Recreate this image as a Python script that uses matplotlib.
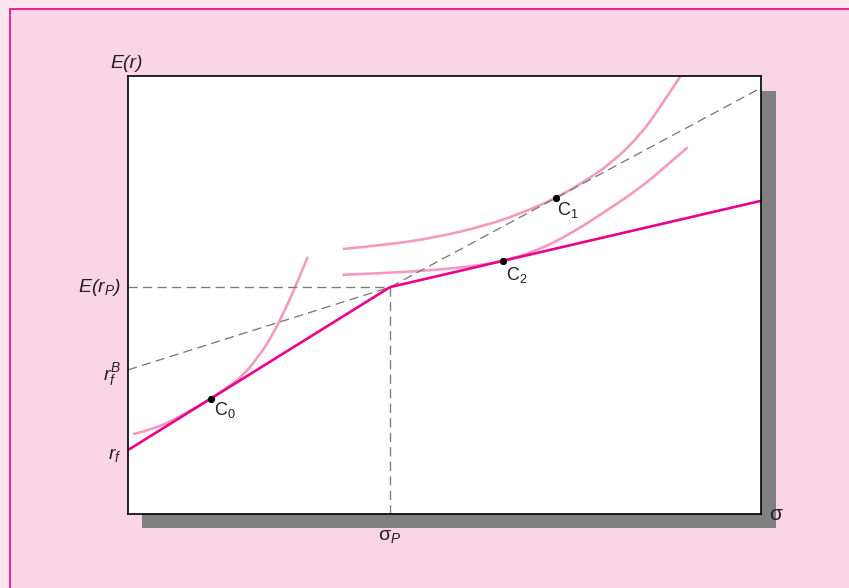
import matplotlib
matplotlib.use("Agg")
import matplotlib.pyplot as plt
from matplotlib.patches import Rectangle, PathPatch
from matplotlib.path import Path

plt.rcParams['font.family'] = ['Liberation Sans', 'DejaVu Sans']
plt.rcParams['mathtext.fontset'] = 'custom'
plt.rcParams['mathtext.rm'] = 'Liberation Sans'
plt.rcParams['mathtext.it'] = 'Liberation Sans:italic'
plt.rcParams['mathtext.bf'] = 'Liberation Sans:bold'

# values (axis units 0-100 for both sigma and E(r))
rf = 14.6
rf_b = 32.9
er_p = 51.8
sigma_p = 41.4

# kinked capital allocation line: rf -> P -> right edge
cal_x = [0, sigma_p, 100]
cal_y = [rf, er_p, 71.5]

# dashed borrowing line: rf_B -> P -> right edge
borrow_x = [0, sigma_p, 100]
borrow_y = [rf_b, er_p, 97.3]

# optimal complete portfolios
c_names = ['C$_0$', 'C$_1$', 'C$_2$']
c_x = [13.1, 67.6, 59.3]
c_y = [26.3, 72.1, 57.8]

# indifference curves
u0_x = [0.8, 4.8, 9.0, 13.1, 15.3, 18.0, 20.6, 22.7, 24.8, 26.7, 28.4]
u0_y = [18.2, 19.7, 22.9, 26.3, 28.5, 31.3, 35.9, 40.5, 46.6, 52.7, 58.7]

u1_x = [33.9, 40.6, 48.5, 56.4, 62.2, 67.6, 72.7, 76.9, 80.9, 84.0, 87.2]
u1_y = [60.5, 61.4, 63.1, 65.8, 68.7, 72.1, 76.4, 80.8, 86.5, 92.7, 99.8]

u2_x = [33.9, 40.6, 48.5, 54.8, 59.3, 64.3, 69.6, 74.8, 80.9, 84.8, 88.4]
u2_y = [54.6, 55.0, 55.7, 56.6, 57.8, 59.9, 63.7, 68.5, 74.4, 79.2, 83.7]

magenta = '#EC008C'
light_pink = '#F49AC1'
dash_gray = '#7A7A7A'
txt = '#231F20'


def smooth_path(xs, ys):
    # quadratic bezier: read points are control points, midpoints sit on the curve
    pts = list(zip(xs, ys))
    verts = [pts[0]]
    codes = [Path.MOVETO]
    for i in range(1, len(pts) - 1):
        mid = ((pts[i][0] + pts[i + 1][0]) / 2, (pts[i][1] + pts[i + 1][1]) / 2)
        if i == len(pts) - 2:
            mid = pts[-1]
        verts += [pts[i], mid]
        codes += [Path.CURVE3, Path.CURVE3]
    return Path(verts, codes)


fig = plt.figure(figsize=(8.49, 5.88), dpi=100, facecolor='#FCE6F0')

# framed pink panel and drop shadow
fig.patches.append(Rectangle((10 / 849, -0.2), 1.2, 1.2 - 9 / 588,
                             transform=fig.transFigure, facecolor='#F9D5E5',
                             edgecolor=magenta, linewidth=1.2, zorder=-2))
fig.patches.append(Rectangle((142 / 849, 60 / 588), 634 / 849, 437 / 588,
                             transform=fig.transFigure, facecolor='#808080',
                             edgecolor='none', zorder=-1))

ax = fig.add_axes([128 / 849, 74 / 588, 633 / 849, 438 / 588])
ax.set_facecolor('white')
ax.set_xlim(0, 100)
ax.set_ylim(0, 100)
ax.set_xticks([])
ax.set_yticks([])
for s in ax.spines.values():
    s.set_color('black')
    s.set_linewidth(1.2)

dash = (0, (7, 4))
ax.plot([0, sigma_p], [er_p, er_p], color=dash_gray, lw=0.95, linestyle=dash)
ax.plot([sigma_p, sigma_p], [0, er_p], color=dash_gray, lw=0.95, linestyle=dash)
ax.plot(borrow_x, borrow_y, color=dash_gray, lw=0.95, linestyle=dash)

for cx, cy in [(u0_x, u0_y), (u1_x, u1_y), (u2_x, u2_y)]:
    ax.add_patch(PathPatch(smooth_path(cx, cy), facecolor='none',
                           edgecolor=light_pink, lw=1.9, capstyle='butt'))

ax.plot(cal_x, cal_y, color=magenta, lw=1.9, solid_joinstyle='miter')

ax.plot(c_x, c_y, 'o', color='black', markersize=4.2, zorder=5)
offsets = [(2, -1), (1, -1), (2, -3)]
for name, x, y, off in zip(c_names, c_x, c_y, offsets):
    ax.annotate(name, (x, y), xytext=off, textcoords='offset points',
                ha='left', va='top', fontsize=13, color=txt)

# axis labels
ax.text(-0.2, 102.9, 'E(r)', ha='center', va='center', style='italic',
        fontsize=14, color=txt, clip_on=False)
ax.text(-1.1, er_p, 'E(r$_{P}$)', ha='right', va='center', style='italic',
        fontsize=14, color=txt, clip_on=False)
ax.text(-1.1, rf_b - 1.1, r'$r_{f}^{B}$', ha='right', va='center',
        fontsize=14, color=txt, clip_on=False)
ax.text(-1.1, rf - 1.2, r'$r_{f}$', ha='right', va='center',
        fontsize=14, color=txt, clip_on=False)
ax.text(sigma_p, -5.2, r'$\mathrm{\sigma}_{P}$', ha='center', va='center',
        fontsize=14, color=txt, clip_on=False)
ax.text(101.2, 0.0, r'$\mathrm{\sigma}$', ha='left', va='center',
        fontsize=15, color=txt, clip_on=False)

fig.savefig('out.png', dpi=100, facecolor=fig.get_facecolor())
